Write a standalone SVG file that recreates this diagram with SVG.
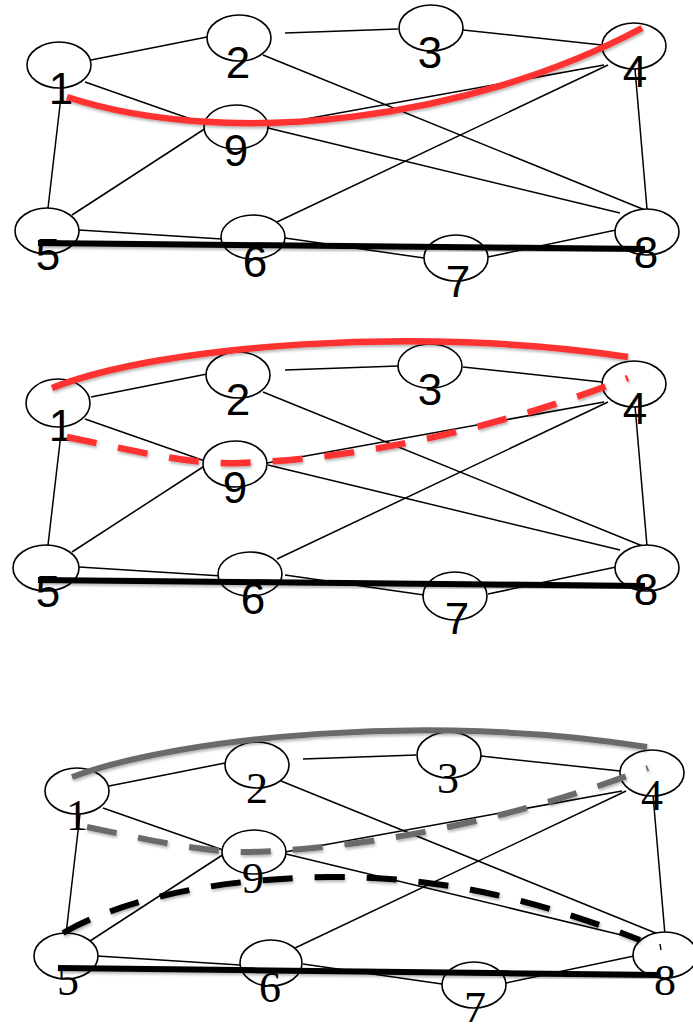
<svg xmlns="http://www.w3.org/2000/svg" width="693" height="1024" viewBox="0 0 693 1024">
<defs>
<style>
.nd ellipse{fill:#fff;stroke:#000;stroke-width:1.6}
.ls{font-family:"Liberation Sans",Arial,sans-serif;font-size:44px;fill:#000;text-anchor:middle}
.lt{font-family:"Liberation Serif","Times New Roman",serif;font-size:44px;fill:#000;text-anchor:middle}
.ed{stroke:#000;stroke-width:1.5;fill:none}
.hl{fill:none;stroke-width:6;stroke-linecap:butt;filter:url(#sh)}
.red{stroke:#ff3030;stroke-width:6.5}
.gray{stroke:#6b6b6b}
.blk{stroke:#000}
.dash{stroke-dasharray:30 22}
</style>
<filter id="sh" x="-10%" y="-50%" width="120%" height="200%">
<feDropShadow dx="1" dy="2" stdDeviation="1.5" flood-color="#000" flood-opacity="0.3"/>
</filter>
<g id="edges-base">
<line x1="91" y1="60" x2="207" y2="37"/>
<line x1="285" y1="33" x2="398" y2="29"/>
<line x1="463" y1="30" x2="602" y2="45"/>
<line x1="263" y1="55" x2="645" y2="210"/>
<line x1="85" y1="82" x2="205" y2="124"/>
<line x1="268" y1="128" x2="620" y2="213"/>
<line x1="267" y1="126" x2="604" y2="65"/>
<line x1="608" y1="65" x2="277" y2="222"/>
<line x1="635" y1="69" x2="647" y2="209"/>
<line x1="62" y1="88" x2="48" y2="208"/>
<line x1="72" y1="215" x2="206" y2="128"/>
<line x1="79" y1="230" x2="222" y2="239"/>
<line x1="285" y1="238" x2="424" y2="258"/>
<line x1="488" y1="257" x2="616" y2="230"/>
</g>
</defs>

<!-- connectors -->
<g id="connectors" class="ed" stroke="#000" stroke-width="1.5" fill="none">
<use href="#edges-base"/>
<use href="#edges-base" transform="translate(0,337)"/>
<use href="#edges-base" transform="translate(18,726)"/>
</g>

<!-- Panel 1 nodes -->
<g id="panel1">
<g id="p1-n1" class="nd"><ellipse cx="59" cy="65" rx="32" ry="23"/><text class="ls" x="61" y="104">1</text></g>
<g id="p1-n2" class="nd"><ellipse cx="239" cy="38" rx="32" ry="23"/><text class="ls" x="238" y="78">2</text></g>
<g id="p1-n3" class="nd"><ellipse cx="431" cy="28" rx="32" ry="23"/><text class="ls" x="430" y="68">3</text></g>
<g id="p1-n4" class="nd"><ellipse cx="634" cy="46" rx="32" ry="23"/><text class="ls" x="635" y="87">4</text></g>
<g id="p1-n5" class="nd"><ellipse cx="47" cy="231" rx="32" ry="23"/><text class="ls" x="48" y="270">5</text></g>
<g id="p1-n6" class="nd"><ellipse cx="253" cy="237" rx="32" ry="22"/><text class="ls" x="255" y="277">6</text></g>
<g id="p1-n7" class="nd"><ellipse cx="456" cy="258" rx="32" ry="23"/><text class="ls" x="458" y="297">7</text></g>
<g id="p1-n8" class="nd"><ellipse cx="647" cy="232" rx="32" ry="23"/><text class="ls" x="646" y="268">8</text></g>
<g id="p1-n9" class="nd"><ellipse cx="236" cy="127" rx="32" ry="22"/><text class="ls" x="236" y="166">9</text></g>
</g>

<!-- Panel 2 nodes -->
<g id="panel2" transform="translate(0,337)">
<g id="p2-n1" class="nd"><ellipse cx="58" cy="66" rx="32" ry="24"/><text class="ls" x="61" y="104">1</text></g>
<g id="p2-n2" class="nd"><ellipse cx="238" cy="38" rx="32" ry="23"/><text class="ls" x="238" y="78">2</text></g>
<g id="p2-n3" class="nd"><ellipse cx="430" cy="29" rx="32" ry="22"/><text class="ls" x="430" y="68">3</text></g>
<g id="p2-n4" class="nd"><ellipse cx="634" cy="47" rx="32" ry="23"/><text class="ls" x="635" y="87">4</text></g>
<g id="p2-n5" class="nd"><ellipse cx="46" cy="231" rx="33" ry="23"/><text class="ls" x="48" y="270">5</text></g>
<g id="p2-n6" class="nd"><ellipse cx="250" cy="237" rx="32" ry="22"/><text class="ls" x="253" y="277">6</text></g>
<g id="p2-n7" class="nd"><ellipse cx="455" cy="259" rx="32" ry="24"/><text class="ls" x="457" y="297">7</text></g>
<g id="p2-n8" class="nd"><ellipse cx="647" cy="231" rx="32" ry="23"/><text class="ls" x="646" y="268">8</text></g>
<g id="p2-n9" class="nd"><ellipse cx="235" cy="127" rx="32" ry="23"/><text class="ls" x="235" y="166">9</text></g>
</g>

<!-- Panel 3 nodes -->
<g id="panel3">
<g id="p3-n1" class="nd"><ellipse cx="77" cy="791" rx="32" ry="23"/><text class="lt" x="77" y="830">1</text></g>
<g id="p3-n2" class="nd"><ellipse cx="257" cy="765" rx="32" ry="23"/><text class="lt" x="257" y="803">2</text></g>
<g id="p3-n3" class="nd"><ellipse cx="449" cy="755" rx="32" ry="23"/><text class="lt" x="448" y="793">3</text></g>
<g id="p3-n4" class="nd"><ellipse cx="652" cy="773" rx="32" ry="23"/><text class="lt" x="652" y="810">4</text></g>
<g id="p3-n5" class="nd"><ellipse cx="66" cy="956" rx="32" ry="23"/><text class="lt" x="68" y="995">5</text></g>
<g id="p3-n6" class="nd"><ellipse cx="271" cy="963" rx="31" ry="23"/><text class="lt" x="270" y="1002">6</text></g>
<g id="p3-n7" class="nd"><ellipse cx="474" cy="985" rx="32" ry="23"/><text class="lt" x="475" y="1022">7</text></g>
<g id="p3-n8" class="nd"><ellipse cx="665" cy="955" rx="32" ry="23"/><text class="lt" x="665" y="995">8</text><line x1="660" y1="944" x2="661" y2="950" stroke="#000" stroke-width="1.5"/></g>
<g id="p3-n9" class="nd"><ellipse cx="254" cy="852" rx="32" ry="22"/><text class="lt" x="253" y="893">9</text></g>
</g>

<!-- highlighted paths -->
<g id="paths">
<path class="hl red" d="M67,97 C230,150 470,120 642,28"/>
<line class="hl blk" x1="38" y1="243" x2="645" y2="249"/>

<path class="hl red" d="M52,388 C160,345 420,325 628,357"/>
<path class="hl red dash" d="M67,437 C140,452 190,465 240,463 C380,458 520,420 628,378"/>
<line class="hl blk" x1="38" y1="580" x2="645" y2="586"/>

<path class="hl gray" d="M72,777 C180,737 430,712 647,747"/>
<path class="hl gray dash" d="M87,827 C160,842 200,852 250,852 C390,848 540,810 648,768"/>
<path class="hl blk dash" d="M63,933 C130,895 230,878 330,877 C450,876 550,905 640,940"/>
<line class="hl blk" x1="58" y1="968" x2="660" y2="975"/>
</g>
</svg>
